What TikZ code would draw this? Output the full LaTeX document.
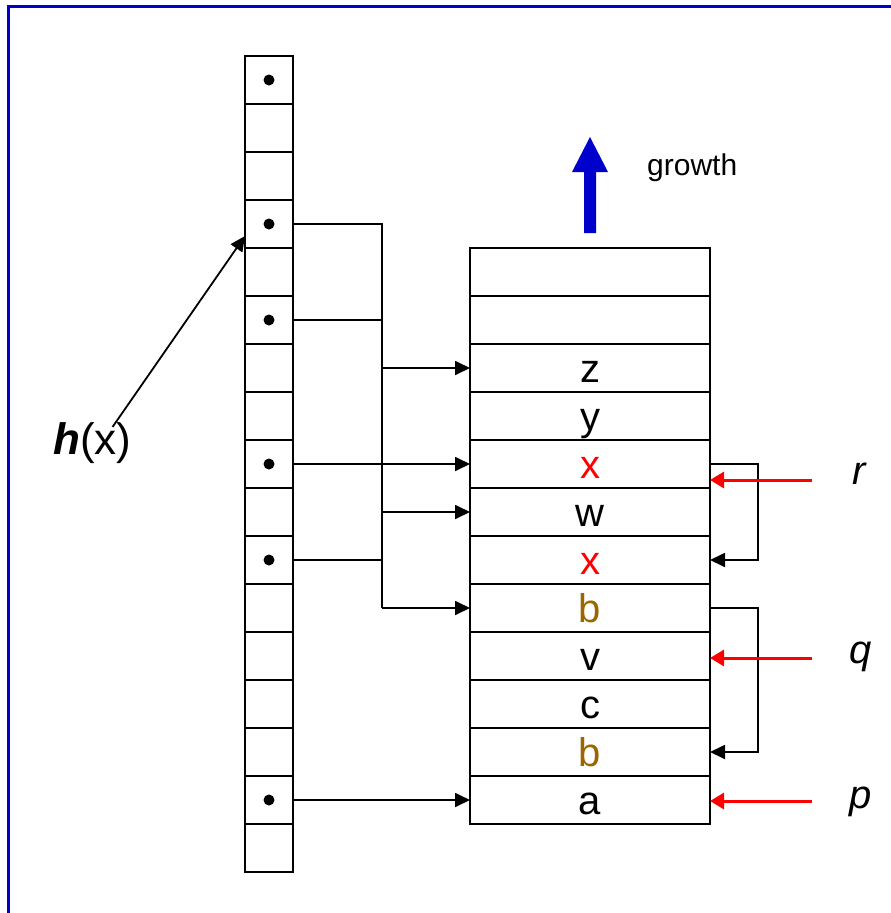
\documentclass[tikz,border=0pt]{standalone}
\usepackage{fontspec}
\setmainfont{Liberation Sans}
\usetikzlibrary{arrows.meta,calc}
\definecolor{bordblue}{RGB}{0,0,204}
\definecolor{brownb}{RGB}{153,102,0}
\begin{document}
\begin{tikzpicture}[x=1pt,y=-1pt,
 hcell/.style={draw,line width=2.8pt,minimum width=48pt,minimum height=48pt,inner sep=0pt,outer sep=0pt},
 rcell/.style={draw,line width=2.8pt,minimum width=240pt,minimum height=48pt,inner sep=0pt,outer sep=0pt,font=\fontsize{40}{44}\selectfont,text height=28pt,text depth=0pt},
 conn/.style={line width=1.8pt},
 arr/.style={conn,-{Triangle[length=15pt,width=14pt]}},
 redarr/.style={line width=3pt,red,-{Triangle[length=14pt,width=16pt]}},
 lbl/.style={font=\fontsize{40}{44}\selectfont\itshape,anchor=base}]
\useasboundingbox (0,0) rectangle (891,913);
\draw[bordblue,line width=3pt] (8,913) -- (8,6) -- (891,6);
% hash table
\foreach \i in {0,...,16} {
  \node[hcell] (h\i) at (269,80+48*\i) {};
}
\foreach \i in {0,3,5,8,10,15} {
  \fill (h\i.center) circle (5.5pt);
}
% bucket array
\foreach \i/\t/\c in {0//black,1//black,2/z/black,3/y/black,4/x/red,5/w/black,6/x/red,7/b/brownb,8/v/black,9/c/black,10/b/brownb,11/a/black} {
  \node[rcell,text=\c] (r\i) at (590,272+48*\i) {\t};
}
% bus
\coordinate (bt) at (382,224);
\coordinate (bb) at (382,608);
\draw[conn] (h3.east) -- (bt) -- (bb);
\draw[conn] (h5.east) -- (h5.east -| bt);
\draw[conn] (h10.east) -- (h10.east -| bt);
\draw[arr] (r2.west -| bt) -- (r2.west);
\draw[arr] (r5.west -| bt) -- (r5.west);
\draw[arr] (r7.west -| bt) -- (r7.west);
\draw[arr] (h8.east) -- (r4.west);
\draw[arr] (h15.east) -- (r11.west);
% chains
\draw[arr] (r4.east) -- ++(48,0) |- (r6.east);
\draw[arr] (r7.east) -- ++(48,0) |- (r10.east);
% h(x)
\node[anchor=base west,inner sep=0pt,font=\fontsize{44}{48}\selectfont] (hx) at (53,454) {\textbf{\textit{h}}(x)};
\draw[arr] ([xshift=-19pt,yshift=-5pt]hx.north east) -- ([yshift=-12pt]h3.west);
% growth
\fill[bordblue] (584,233) -- (584,172) -- (572,172) -- (590,137) -- (608,172) -- (596,172) -- (596,233) -- cycle;
\node[anchor=base west,inner sep=0pt,font=\fontsize{30}{34}\selectfont] (gr) at (647,175) {growth};
% pointers
\coordinate (rs) at (812,480);
\coordinate (qs) at (812,658);
\coordinate (ps) at (812,801);
\draw[redarr] (rs) -- (rs -| r4.east);
\draw[redarr] (qs) -- (qs -| r8.east);
\draw[redarr] (ps) -- (ps -| r11.east);
\node[lbl] (lr) at (859,484) {r};
\node[lbl] (lq) at (861,663) {q};
\node[lbl] (lp) at (861,808) {p};
\end{tikzpicture}
\end{document}
